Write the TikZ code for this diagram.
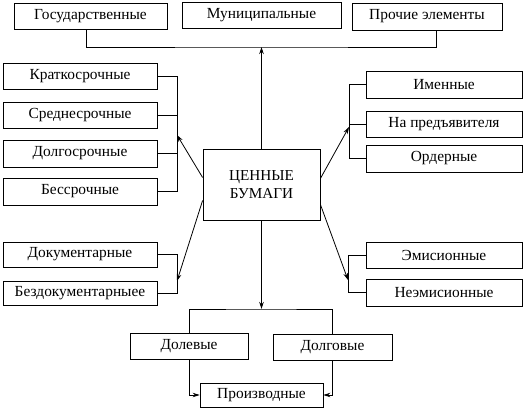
\documentclass[tikz,border=0pt]{standalone}
\usepackage{fontspec}
\setmainfont{Liberation Serif}
\usetikzlibrary{arrows.meta,calc}

\begin{document}
\begin{tikzpicture}[x=1pt,y=-1pt,>={Stealth[length=7pt,width=4.5pt]},
    line width=0.8pt,
    box/.style={draw,inner sep=0pt,align=center,minimum height=26pt,
      font=\fontsize{15.4}{17}\selectfont},
    sidebox/.style={box,minimum width=154pt},
    rightbox/.style={box,minimum width=156pt},
    main/.style={box,minimum width=117pt,minimum height=71pt,
      font=\fontsize{15.2}{18}\selectfont}]
    \useasboundingbox (0,0) rectangle (529,417);
    \node[box,minimum width=153pt] (gos) at (90.5,16) {Государственные};
    \node[box,minimum width=159pt] (mun) at (261.5,15.5) {Муниципальные};
    \node[box,minimum width=150pt,minimum height=27pt] (proch) at (427,16.5) {Прочие элементы};
    \node[sidebox] (krat) at (80,76) {Краткосрочные};
    \node[sidebox] (sred) at (80,115) {Среднесрочные};
    \node[sidebox,minimum height=27pt] (dolgo) at (80,153.5) {Долгосрочные};
    \node[sidebox,minimum height=27pt] (bess) at (80,191.5) {Бессрочные};
    \node[sidebox,minimum height=25pt] (dok) at (80,254.5) {Документарные};
    \node[sidebox,minimum height=24pt] (bezdok) at (80,293) {Бездокументарныее};
    \node[main] (cb) at (261.5,184.5) {ЦЕННЫЕ\\БУМАГИ};
    \node[rightbox,minimum height=27pt] (imen) at (444,84.5) {Именные};
    \node[rightbox] (pred) at (444,124) {На предъявителя};
    \node[rightbox,minimum height=27pt] (order) at (444,158.5) {Ордерные};
    \node[rightbox] (emis) at (444,255) {Эмисионные};
    \node[rightbox,minimum height=27pt] (neemis) at (444,292.5) {Неэмисионные};
    \node[box,minimum width=118pt] (dolev) at (189,346) {Долевые};
    \node[box,minimum width=119pt] (dolg) at (332.5,347) {Долговые};
    \node[box,minimum width=123pt,minimum height=24pt] (proizv) at (261.5,395) {Производные};

    \coordinate (topbus) at (261.5,47);
    \coordinate (botbus) at (261.5,309);
    \coordinate (lk) at (177,0);
    \coordinate (rk) at (349,0);
    \coordinate (ltop) at (177,135);
    \coordinate (lbot) at (177,281);
    \coordinate (rtop) at (349,127);
    \coordinate (rbot) at (348,280);

    \draw ([xshift=-4pt]gos.south) |- (topbus) -| ([xshift=9pt]proch.south);
    \draw[->] (cb) -- (topbus);
    \draw[->] (cb.south) -- (botbus);
    \draw (dolev.north) |- (botbus) -| (dolg.north);
    \draw[->] (dolev.south) |- (proizv.west);
    \draw[->] (dolg.south) |- (proizv.east);

    \draw (krat.east) -- (krat.east -| lk) |- (bess.east);
    \draw (sred.east) -- (sred.east -| lk);
    \draw (dolgo.east) -- (dolgo.east -| lk);
    \draw (dok.east) -- (dok.east -| lk) |- (bezdok.east);
    \draw (imen.west) -- (imen.west -| rk) |- (order.west);
    \draw (pred.west) -- (pred.west -| rk);
    \draw (emis.west) -- (emis.west -| rbot) |- (neemis.west);

    \draw[->] ([yshift=7pt]cb.west) -- (ltop);
    \draw[->] ([yshift=-16pt]cb.west) -- (lbot);
    \draw[->] ([yshift=6pt]cb.east) -- (rtop);
    \draw[->] ([yshift=-20pt]cb.east) -- (rbot);
  \end{tikzpicture}
\end{document}
